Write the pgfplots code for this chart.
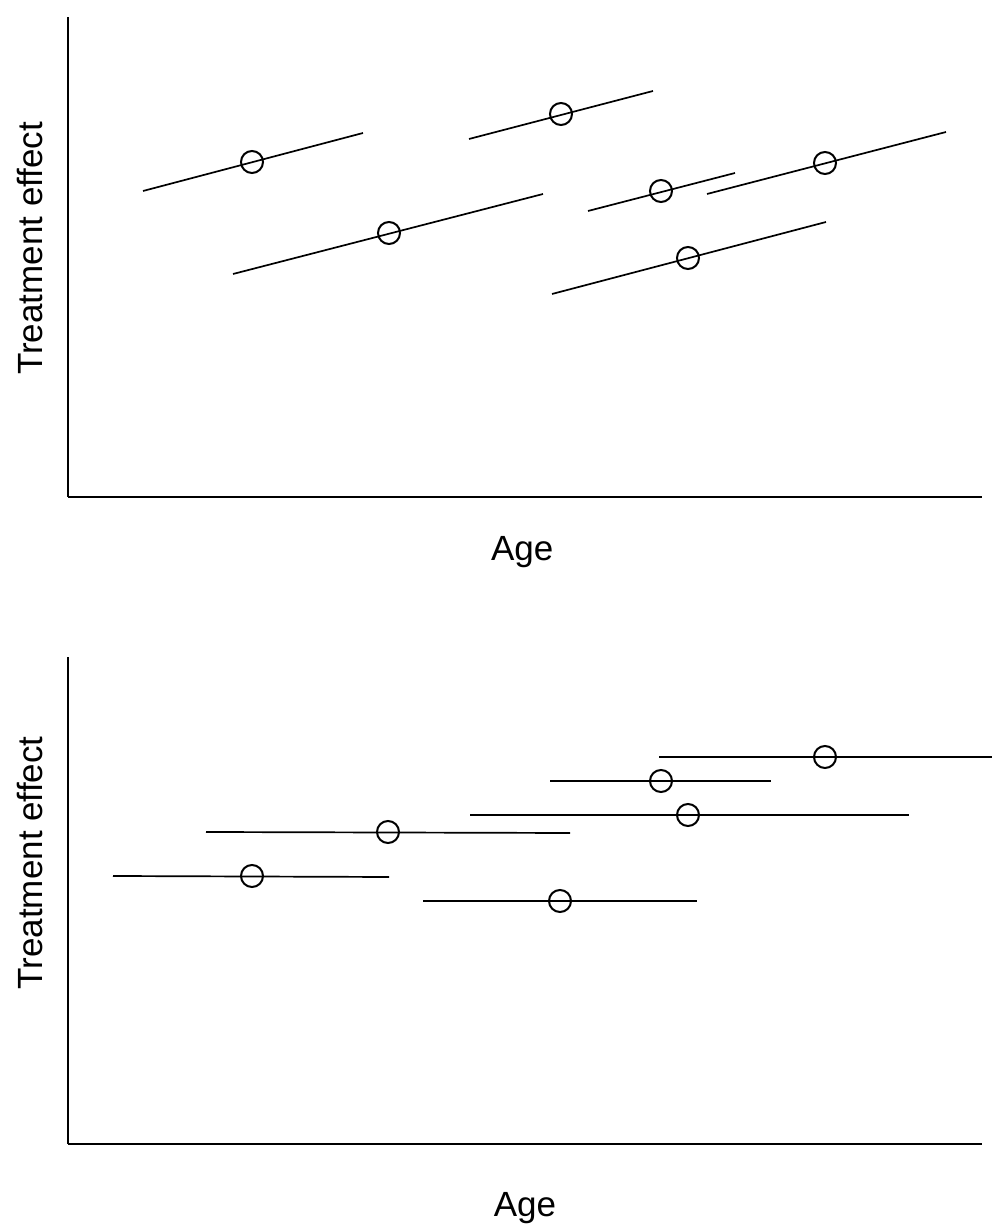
\documentclass[border=0pt]{standalone}
\usepackage{pgfplots}
\pgfplotsset{compat=1.18}
\usepackage{fontspec}
\setmainfont{Liberation Sans}
\begin{document}
\begin{tikzpicture}
\path[use as bounding box] (0,0) rectangle (502pt,616pt);
\pgfplotsset{
  panel/.style={
    scale only axis, width=457pt, clip=false,
    xmin=68, xmax=982,
    axis x line=bottom, axis y line=left,
    axis line style={-, line width=1.1pt},
    xtick=\empty, ytick=\empty,
    label style={font=\fontsize{17.5}{20}\selectfont},
  },
  seg/.style={black, line width=0.85pt, no marks},
  pt/.style={only marks, mark=o, mark size=5.5pt, mark options={line width=1pt, black}},
}
% Top panel
\begin{axis}[panel, height=240pt, ymin=735, ymax=1215,
  at={(34pt,367.5pt)}, anchor=south west,
  xlabel={Age}, ylabel={Treatment effect},
  xlabel style={at={(axis description cs:0.497,0)}, anchor=base, yshift=-32pt},
  ylabel style={at={(axis description cs:-0.0284,0.518)}, anchor=base}]
\addplot[seg] coordinates {(143,1041) (363,1099)};
\addplot[seg] coordinates {(469,1093) (653,1141)};
\addplot[seg] coordinates {(233,958) (543,1038)};
\addplot[seg] coordinates {(588,1021) (735,1059)};
\addplot[seg] coordinates {(707,1038) (946,1100)};
\addplot[seg] coordinates {(552,938) (826,1010)};
\addplot[pt] coordinates {(252,1070) (561,1118) (389,999) (661,1041) (825,1069) (688,974)};
\end{axis}
% Bottom panel
\begin{axis}[panel, height=243.5pt, ymin=88, ymax=575,
  at={(34pt,44pt)}, anchor=south west,
  xlabel={Age}, ylabel={Treatment effect},
  xlabel style={at={(axis description cs:0.50,0)}, anchor=base, yshift=-36pt},
  ylabel style={at={(axis description cs:-0.0284,0.577)}, anchor=base}]
\addplot[seg] coordinates {(113,356) (389,355)};
\addplot[seg] coordinates {(206,400) (570,399)};
\addplot[seg] coordinates {(423,331) (697,331)};
\addplot[seg] coordinates {(470,417) (909,417)};
\addplot[seg] coordinates {(550,451) (771,451)};
\addplot[seg] coordinates {(659,475) (992,475)};
\addplot[pt] coordinates {(252,356) (388,400) (560,331) (688,417) (661,451) (825,475)};
\end{axis}
\end{tikzpicture}
\end{document}
